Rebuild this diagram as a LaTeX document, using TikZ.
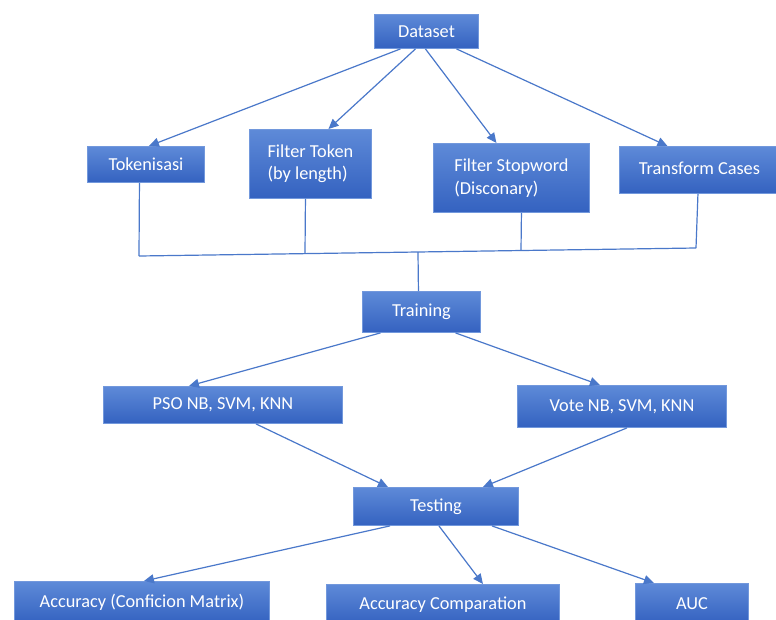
\documentclass[tikz,border=0pt]{standalone}
\usepackage{fontspec}
\setmainfont{Carlito}
\usetikzlibrary{arrows.meta}
\definecolor{boxtop}{HTML}{5E8AD8}
\definecolor{boxbot}{HTML}{3462C0}
\definecolor{boxedge}{HTML}{7298DC}
\definecolor{link}{HTML}{4A78CA}
\tikzset{
  box/.style={draw=boxedge, line width=0.9pt, top color=boxtop, bottom color=boxbot,
    text=white, font=\fontsize{18.3}{22.5}\selectfont, inner sep=0pt, anchor=north west, align=left},
  arr/.style={draw=link, line width=1.2pt, -{Triangle[length=10pt,width=9pt]}},
  ln/.style={draw=link, line width=1.2pt}
}
\begin{document}
\begin{tikzpicture}[x=1pt,y=-1pt]
\useasboundingbox (0,0) rectangle (776,619);
\clip (0,0) rectangle (776,619);
\fill[white] (0,0) rectangle (776,619);
% nodes
\node[box, minimum width=104pt, minimum height=34pt] (ds) at (374,14) {Dataset};
\node[box, minimum width=117pt, minimum height=36pt] (tok) at (87,146) {Tokenisasi};
\node[box, minimum width=122pt, minimum height=69pt] (ft) at (249,129) {Filter Token\\(by length)};
\node[box, minimum width=156pt, minimum height=69pt] (sw) at (433,143) {Filter Stopword\\(Disconary)};
\node[box, minimum width=160pt, minimum height=47pt] (tc) at (619,146) {\raisebox{3pt}{Transform Cases}};
\node[box, minimum width=118pt, minimum height=41pt] (tr) at (362,291) {Training};
\node[box, minimum width=239pt, minimum height=37pt] (pso) at (103,386) {PSO NB, SVM, KNN};
\node[box, minimum width=209pt, minimum height=42pt] (vote) at (517,385) {Vote NB, SVM, KNN};
\node[box, minimum width=165pt, minimum height=38pt] (test) at (353,487) {Testing};
\node[box, minimum width=255pt, minimum height=42pt] (acc) at (14,581) {Accuracy (Conficion Matrix)};
\node[box, minimum width=233pt, minimum height=40pt] (cmp) at (326,584) {Accuracy Comparation};
\node[box, minimum width=113pt, minimum height=40pt] (auc) at (635,583) {AUC};
% dataset arrows
\draw[arr] ([xshift=-26pt]ds.south) -- ([xshift=3pt]tok.north);
\draw[arr] ([xshift=-11pt]ds.south) -- ([xshift=18pt]ft.north);
\draw[arr] ([xshift=-1pt]ds.south) -- ([xshift=-15pt]sw.north);
\draw[arr] ([xshift=30pt]ds.south) -- ([xshift=-32pt]tc.north);
% bus
\coordinate (b1) at (139,256);
\coordinate (b2) at (305,253.6);
\coordinate (bt) at (418,252.2);
\coordinate (b3) at (521,250.5);
\coordinate (b4) at (696,248);
\draw[ln] (b1) -- (b4);
\draw[ln] ([xshift=-6.5pt]tok.south) -- (b1);
\draw[ln] ([xshift=-5pt]ft.south) -- (b2);
\draw[ln] ([xshift=10pt]sw.south) -- (b3);
\draw[ln] ([xshift=-1.5pt]tc.south) -- (b4);
\draw[ln] (bt) -- ([xshift=-3pt]tr.north);
% training
\draw[arr] ([xshift=-41pt]tr.south) -- ([xshift=-34pt]pso.north);
\draw[arr] ([xshift=34pt]tr.south) -- ([xshift=-22pt]vote.north);
% to testing
\draw[arr] ([xshift=33pt]pso.south) -- ([xshift=-48pt]test.north);
\draw[arr] ([xshift=5pt]vote.south) -- ([xshift=47pt]test.north);
% testing outputs
\draw[arr] ([xshift=-46pt]test.south) -- ([xshift=2pt]acc.north);
\draw[arr] ([xshift=3pt]test.south) -- ([xshift=40pt]cmp.north);
\draw[arr] ([xshift=56pt]test.south) -- ([xshift=-38pt]auc.north);
\end{tikzpicture}
\end{document}
